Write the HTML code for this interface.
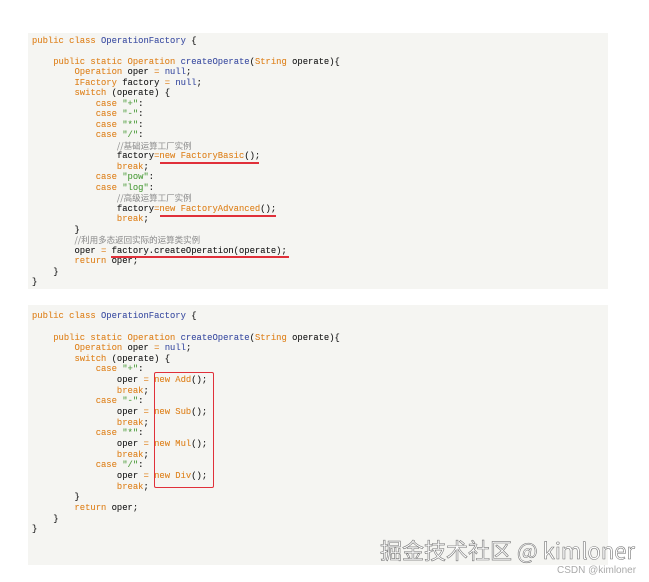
<!DOCTYPE html>
<html><head><meta charset="utf-8"><style>
body{margin:0;background:#fff;width:649px;height:582px;position:relative;overflow:hidden}
.p{position:absolute;left:28px;width:580px;background:#f5f5f2}
.l{position:absolute;left:32px;height:12px;line-height:12px;font-family:"Liberation Mono","Noto Sans CJK SC",monospace;font-size:8.85px;color:#2b2b2b;white-space:pre;text-shadow:0 0 0.3px currentColor}
.k{color:#e08a2c}.b{color:#4a5aa8}.g{color:#5aa34a}.c{color:#9a9a9a;font-family:"Noto Sans CJK SC",sans-serif;font-size:8.5px}
.u{position:absolute;height:1.5px;background:#e0303a}
</style></head><body>
<div class="p" style="top:33px;height:256px"></div>
<div class="p" style="top:305px;height:260px"></div>

<div class="l" style="top:35px"><span class="k">public class</span> <span class="b">OperationFactory</span> {</div>
<div class="l" style="top:56px">    <span class="k">public static Operation</span> <span class="b">createOperate</span>(<span class="k">String</span> operate){</div>
<div class="l" style="top:66px">        <span class="k">Operation</span> oper <span class="k">=</span> <span class="b">null</span>;</div>
<div class="l" style="top:77px">        <span class="k">IFactory</span> factory <span class="k">=</span> <span class="b">null</span>;</div>
<div class="l" style="top:87px">        <span class="k">switch</span> (operate) {</div>
<div class="l" style="top:98px">            <span class="k">case</span> <span class="g">"+"</span>:</div>
<div class="l" style="top:108px">            <span class="k">case</span> <span class="g">"-"</span>:</div>
<div class="l" style="top:119px">            <span class="k">case</span> <span class="g">"*"</span>:</div>
<div class="l" style="top:129px">            <span class="k">case</span> <span class="g">"/"</span>:</div>
<div class="l" style="top:140px">                <span class="c">//基础运算工厂实例</span></div>
<div class="l" style="top:150px">                factory<span class="k">=new FactoryBasic</span>();</div>
<div class="l" style="top:161px">                <span class="k">break</span>;</div>
<div class="l" style="top:171px">            <span class="k">case</span> <span class="g">"pow"</span>:</div>
<div class="l" style="top:182px">            <span class="k">case</span> <span class="g">"log"</span>:</div>
<div class="l" style="top:192px">                <span class="c">//高级运算工厂实例</span></div>
<div class="l" style="top:203px">                factory<span class="k">=new FactoryAdvanced</span>();</div>
<div class="l" style="top:213px">                <span class="k">break</span>;</div>
<div class="l" style="top:224px">        }</div>
<div class="l" style="top:234px">        <span class="c">//利用多态返回实际的运算类实例</span></div>
<div class="l" style="top:245px">        oper <span class="k">=</span> factory.createOperation(operate);</div>
<div class="l" style="top:255px">        <span class="k">return</span> oper;</div>
<div class="l" style="top:266px">    }</div>
<div class="l" style="top:276px">}</div>
<div class="u" style="left:160px;width:99px;top:162px"></div>
<div class="u" style="left:160px;width:116px;top:215px"></div>
<div class="u" style="left:111px;width:178px;top:256px"></div>

<div class="l" style="top:310px"><span class="k">public class</span> <span class="b">OperationFactory</span> {</div>
<div class="l" style="top:332px">    <span class="k">public static Operation</span> <span class="b">createOperate</span>(<span class="k">String</span> operate){</div>
<div class="l" style="top:342px">        <span class="k">Operation</span> oper <span class="k">=</span> <span class="b">null</span>;</div>
<div class="l" style="top:353px">        <span class="k">switch</span> (operate) {</div>
<div class="l" style="top:363px">            <span class="k">case</span> <span class="g">"+"</span>:</div>
<div class="l" style="top:374px">                oper <span class="k">=</span> <span class="k">new Add</span>();</div>
<div class="l" style="top:385px">                <span class="k">break</span>;</div>
<div class="l" style="top:395px">            <span class="k">case</span> <span class="g">"-"</span>:</div>
<div class="l" style="top:406px">                oper <span class="k">=</span> <span class="k">new Sub</span>();</div>
<div class="l" style="top:417px">                <span class="k">break</span>;</div>
<div class="l" style="top:427px">            <span class="k">case</span> <span class="g">"*"</span>:</div>
<div class="l" style="top:438px">                oper <span class="k">=</span> <span class="k">new Mul</span>();</div>
<div class="l" style="top:449px">                <span class="k">break</span>;</div>
<div class="l" style="top:459px">            <span class="k">case</span> <span class="g">"/"</span>:</div>
<div class="l" style="top:470px">                oper <span class="k">=</span> <span class="k">new Div</span>();</div>
<div class="l" style="top:481px">                <span class="k">break</span>;</div>
<div class="l" style="top:491px">        }</div>
<div class="l" style="top:502px">        <span class="k">return</span> oper;</div>
<div class="l" style="top:513px">    }</div>
<div class="l" style="top:523px">}</div>
<div style="position:absolute;left:154px;top:372px;width:58px;height:114px;border:1.5px solid #e0303a;border-radius:2px"></div>

<div style="position:absolute;left:380px;top:534px;font-family:'Noto Sans CJK SC',sans-serif;font-size:22px;color:#fff;-webkit-text-stroke:0.6px #777;white-space:nowrap">掘金技术社区 @ kimloner</div>
<div style="position:absolute;left:557px;top:565px;font-family:'Liberation Sans',sans-serif;font-size:10px;color:#aaa;white-space:nowrap">CSDN @kimloner</div>
</body></html>
